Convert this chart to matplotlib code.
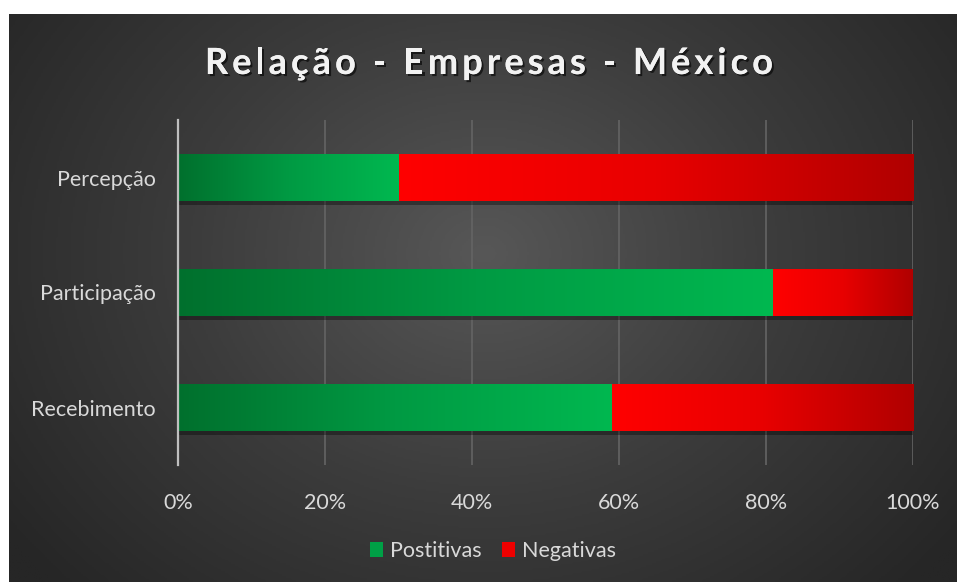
import numpy as np
import matplotlib
matplotlib.use("Agg")
import matplotlib.pyplot as plt
from matplotlib.colors import LinearSegmentedColormap
from matplotlib.patches import Rectangle
import matplotlib.patheffects as pe

# Data
categories = ["Recebimento", "Participação", "Percepção"]
positivas = [59, 81, 30]
negativas = [41, 19, 70]
series_names = ["Postitivas", "Negativas"]
tick_values = [0, 20, 40, 60, 80, 100]
tick_labels = ["0%", "20%", "40%", "60%", "80%", "100%"]
title = "Relação - Empresas - México"

FONT = "Lato"
LABEL_SIZE = 15.5
W, H = 957, 582
fig = plt.figure(figsize=(W / 100, H / 100), dpi=100, facecolor="white")

# Dark background panel with a soft radial glow
bg = fig.add_axes([9 / W, 0, (W - 9) / W, (H - 14) / H], zorder=-5)
bg.set_axis_off()
ny, nx = 300, 500
yy, xx = np.mgrid[0:ny, 0:nx]
cx, cy = nx * 0.5, ny * 0.42
r = np.sqrt(((xx - cx) / (nx * 0.62)) ** 2 + ((yy - cy) / (ny * 0.85)) ** 2)
r = np.clip(r, 0, 1)
bg_cmap = LinearSegmentedColormap.from_list("bg", ["#575757", "#3c3c3c", "#262626"])
bg.imshow(r, cmap=bg_cmap, aspect="auto", extent=[0, 1, 0, 1], vmin=0, vmax=1)
bg.set_xlim(0, 1)
bg.set_ylim(0, 1)

# Main plot area
ax = fig.add_axes([178 / W, 1 - 465 / H, (913 - 178) / W, (465 - 120) / H])
ax.set_facecolor("none")

green_cmap = LinearSegmentedColormap.from_list("g", ["#00702d", "#009a43", "#00b850"])
red_cmap = LinearSegmentedColormap.from_list("r", ["#ff0000", "#e80000", "#b00000"])
grad = np.linspace(0, 1, 256).reshape(1, -1)

bar_h = 0.41
for i, (p, n) in enumerate(zip(positivas, negativas)):
    y0 = i - bar_h / 2
    # drop shadow
    sh = Rectangle((0.2, y0 - 0.035), p + n - 0.1, bar_h, facecolor="black",
                   alpha=0.35, edgecolor="none", zorder=2)
    ax.add_patch(sh)
    for left, width, cmap in ((0, p, green_cmap), (p, n, red_cmap)):
        rect = Rectangle((left, y0), width, bar_h, facecolor="none",
                         edgecolor="none", zorder=3)
        ax.add_patch(rect)
        im = ax.imshow(grad, cmap=cmap, aspect="auto",
                       extent=[left, left + width, y0, y0 + bar_h],
                       zorder=3, interpolation="bilinear")
        im.set_clip_path(rect)

ax.set_xlim(0, 100)
ax.set_ylim(-0.5, len(categories) - 0.5)

ax.set_xticks(tick_values)
ax.set_xticklabels(tick_labels)
ax.set_yticks(range(len(categories)))
ax.set_yticklabels(categories)
ax.tick_params(axis="both", length=0, colors="#d9d9d9", labelsize=LABEL_SIZE)
ax.tick_params(axis="x", pad=20)
ax.tick_params(axis="y", pad=16)
for lbl in ax.get_xticklabels() + ax.get_yticklabels():
    lbl.set_fontfamily(FONT)

ax.grid(axis="x", color="#646464", linewidth=1.2, zorder=0)
ax.set_axisbelow(True)
for s in ("top", "right", "bottom"):
    ax.spines[s].set_visible(False)
ax.spines["left"].set_color("#bfbfbf")
ax.spines["left"].set_linewidth(1.6)
ax.spines["left"].set_zorder(4)

# Title with letter tracking, laid out one glyph at a time
title_kw = dict(fontsize=26, fontweight="bold", family=FONT)
renderer = fig.canvas.get_renderer()


def text_width(s):
    t = fig.text(0, 0, s, **title_kw)
    w = t.get_window_extent(renderer).width
    t.remove()
    return w


ref_w = text_width("l")
advances = [text_width(title[:k] + "l") - ref_w for k in range(len(title))]
natural_w = text_width(title)
target_left, target_right = 205, 773
track = ((target_right - target_left) - natural_w) / (len(title) - 1)
shadow = [pe.withSimplePatchShadow(offset=(1.5, -1.5), shadow_rgbFace="black",
                                   alpha=0.6), pe.Normal()]
for k, ch in enumerate(title):
    if ch == " ":
        continue
    x_px = target_left + advances[k] + k * track
    fig.text(x_px / W, 1 - 74 / H, ch, ha="left", va="baseline",
             color="#f2f2f2", path_effects=shadow, **title_kw)

# Legend
handles = [Rectangle((0, 0), 1, 1, facecolor="#00a046", edgecolor="none"),
           Rectangle((0, 0), 1, 1, facecolor="#ee0000", edgecolor="none")]
leg = fig.legend(handles, series_names, loc="center", ncol=2,
                 bbox_to_anchor=(493 / W, 1 - 551 / H), frameon=False,
                 handlelength=0.62, handleheight=0.7, handletextpad=0.32,
                 columnspacing=0.95, prop={"family": FONT, "size": LABEL_SIZE})
for t in leg.get_texts():
    t.set_color("#d9d9d9")

fig.savefig("out.png", dpi=100, facecolor=fig.get_facecolor())
